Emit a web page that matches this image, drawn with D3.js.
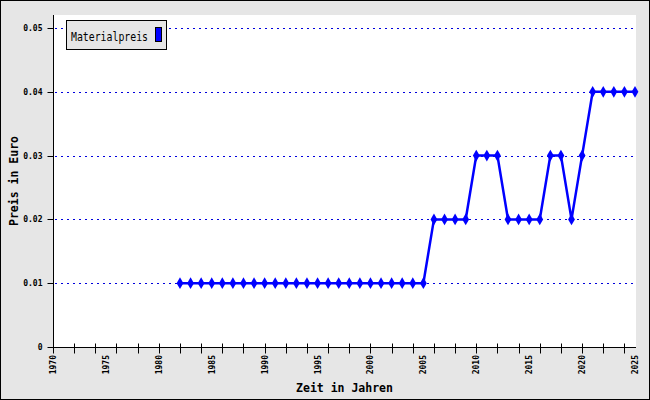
<!DOCTYPE html>
<html><head><meta charset="utf-8">
<script src="https://cdn.jsdelivr.net/npm/d3@7"></script>
<style>body{margin:0;padding:0;background:#fff}svg{display:block}</style>
</head><body>
<script>
const years = [1982,1983,1984,1985,1986,1987,1988,1989,1990,1991,1992,1993,1994,1995,1996,1997,1998,1999,2000,2001,2002,2003,2004,2005,2006,2007,2008,2009,2010,2011,2012,2013,2014,2015,2016,2017,2018,2019,2020,2021,2022,2023,2024,2025];
const prices = [0.01,0.01,0.01,0.01,0.01,0.01,0.01,0.01,0.01,0.01,0.01,0.01,0.01,0.01,0.01,0.01,0.01,0.01,0.01,0.01,0.01,0.01,0.01,0.01,0.02,0.02,0.02,0.02,0.03,0.03,0.03,0.02,0.02,0.02,0.02,0.03,0.03,0.02,0.03,0.04,0.04,0.04,0.04,0.04];
const yTicks = [0,0.01,0.02,0.03,0.04,0.05];
const yTickLabels = ["0","0.01","0.02","0.03","0.04","0.05"];
const xLabelYears = [1970,1975,1980,1985,1990,1995,2000,2005,2010,2015,2020,2025];
const xTickYears = d3.range(1970, 2026, 2);
const seriesName = "Materialpreis";
const xTitle = "Zeit in Jahren";
const yTitle = "Preis in Euro";

const W = 650, H = 400;
const L = 53, R = 636, T = 15, B = 347;
const mono = "'DejaVu Sans Mono', 'Liberation Mono', monospace";

const svg = d3.select("body").append("svg").attr("width", W).attr("height", H);
svg.append("rect").attr("x",0.5).attr("y",0.5).attr("width",W-1).attr("height",H-1)
  .attr("fill","#e6e6e6").attr("stroke","#000");
svg.append("rect").attr("x",L).attr("y",T).attr("width",R-L).attr("height",B-T).attr("fill","#fff");

const x = d3.scaleLinear().domain([1970,2025]).range([L,R-1]);
const y = d3.scaleLinear().domain([0,0.05]).range([B,28]);

// grid
svg.append("g").selectAll("line").data(yTicks.filter(d=>d>0)).join("line")
  .attr("x1",L+2).attr("x2",R).attr("y1",d=>Math.round(y(d))+0.5).attr("y2",d=>Math.round(y(d))+0.5)
  .attr("stroke","#0000dd").attr("stroke-width",1).attr("stroke-dasharray","2,4");

// y axis
const yAxis = d3.axisLeft(y).tickValues(yTicks).tickFormat((d,i)=>yTickLabels[i]).tickSize(6).tickPadding(5);
const gy = svg.append("g").attr("transform",`translate(${L+0.5},0)`).call(yAxis);
gy.select(".domain").attr("d",`M0,${T}V${B}`).attr("stroke","#000");
gy.selectAll(".tick line").attr("x1",-6).attr("x2",0).attr("stroke","#000");
gy.selectAll(".tick text").attr("font-family",mono).attr("font-size",8).attr("font-weight","bold").attr("fill","#000");
gy.selectAll(".tick").attr("transform",d=>`translate(0,${Math.round(y(d))+0.5})`);

// x axis
const xAxis = d3.axisBottom(x).tickValues(xTickYears).tickFormat("").tickSize(6);
const gx = svg.append("g").attr("transform",`translate(0,${B+0.5})`).call(xAxis);
gx.select(".domain").attr("d",`M${L},0H${R}`).attr("stroke","#000");
gx.selectAll(".tick line").attr("y1",-4).attr("y2",6).attr("stroke","#000");
gx.selectAll(".tick").attr("transform",d=>`translate(${Math.round(x(d))+0.5},0)`);
svg.append("g").selectAll("text").data(xLabelYears).join("text")
  .attr("transform",d=>`translate(${Math.round(x(d))+3},${B+8}) rotate(-90)`)
  .attr("text-anchor","end").attr("font-family",mono).attr("font-size",8).attr("font-weight","bold")
  .attr("fill","#000").text(d=>d);

// titles
svg.append("text").attr("x",(L+R)/2).attr("y",392).attr("text-anchor","middle")
  .attr("font-family",mono).attr("font-size",11.5).attr("font-weight","bold").text(xTitle);
svg.append("text").attr("transform",`translate(18,${(T+B)/2}) rotate(-90)`).attr("text-anchor","middle")
  .attr("font-family",mono).attr("font-size",11.5).attr("font-weight","bold").text(yTitle);

// line
const data = years.map((yr,i)=>({yr, v:prices[i]}));
svg.append("path").datum(data)
  .attr("d", d3.line().x(d=>x(d.yr)).y(d=>y(d.v)))
  .attr("fill","none").attr("stroke","#0000ff").attr("stroke-width",2.5);
svg.append("g").selectAll("path").data(data).join("path")
  .attr("transform",d=>`translate(${x(d.yr)},${y(d.v)})`)
  .attr("d", d3.symbol().type(d3.symbolDiamond).size(40))
  .attr("fill","#0000ff");

// legend
svg.append("rect").attr("x",66.5).attr("y",20.5).attr("width",100).attr("height",29)
  .attr("fill","#e6e6e6").attr("stroke","#000");
svg.append("text").attr("x",71).attr("y",41).attr("font-family",mono).attr("font-size",12)
  .attr("textLength",77).attr("lengthAdjust","spacingAndGlyphs")
  .attr("fill","#000").text(seriesName);
svg.append("rect").attr("x",155.5).attr("y",27.5).attr("width",6).attr("height",14)
  .attr("fill","#0000ff").attr("stroke","#000");
</script>
</body></html>
